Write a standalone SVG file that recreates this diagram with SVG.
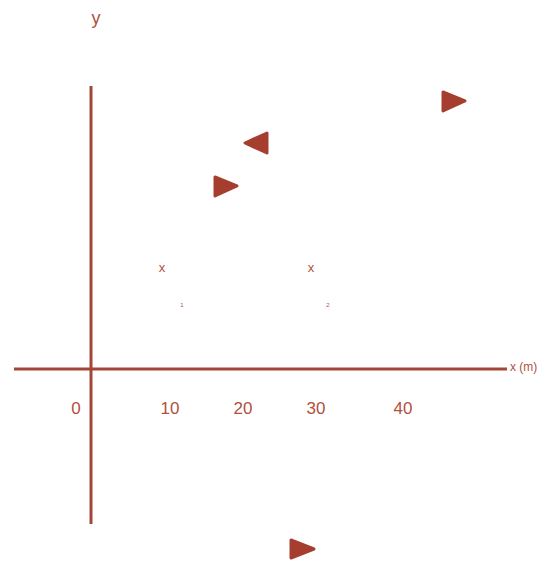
<svg xmlns="http://www.w3.org/2000/svg" width="544" height="561" viewBox="0 0 544 561">
<style>
.ax{stroke:#a3463a;stroke-width:3;fill:none}
.t{font-family:"Liberation Sans",Arial,sans-serif;fill:#b0503f}
.tri{fill:#a63e30;stroke:#a63e30;stroke-width:3;stroke-linejoin:round}
</style>
<rect width="544" height="561" fill="#fff"/>
<g id="axes">
<line class="ax" x1="14" y1="369" x2="507" y2="369"/>
<line class="ax" x1="91" y1="86" x2="91" y2="524"/>
</g>
<g id="labels">
<text class="t" x="96" y="24" font-size="18" text-anchor="middle">y</text>
<text class="t" x="510" y="371" font-size="12">x (m)</text>
<text class="t" x="76" y="414" font-size="17" text-anchor="middle">0</text>
<text class="t" x="170" y="414" font-size="17" text-anchor="middle">10</text>
<text class="t" x="243" y="414" font-size="17" text-anchor="middle">20</text>
<text class="t" x="316" y="414" font-size="17" text-anchor="middle">30</text>
<text class="t" x="403" y="414" font-size="17" text-anchor="middle">40</text>
<text class="t" x="162" y="272" font-size="13" text-anchor="middle">x</text>
<text class="t" x="311" y="272" font-size="13" text-anchor="middle">x</text>
<text class="t" x="182" y="307" font-size="6" text-anchor="middle">1</text>
<text class="t" x="328" y="307" font-size="6" text-anchor="middle">2</text>
</g>
<g id="tri1"><polygon class="tri" points="443,92 465,101 443,111"/></g>
<g id="tri2"><polygon class="tri" points="267,133 245,143 267,153"/></g>
<g id="tri3"><polygon class="tri" points="215,177 237,186 215,196"/></g>
<g id="tri4"><polygon class="tri" points="291,540 314,549 291,558"/></g>
</svg>
